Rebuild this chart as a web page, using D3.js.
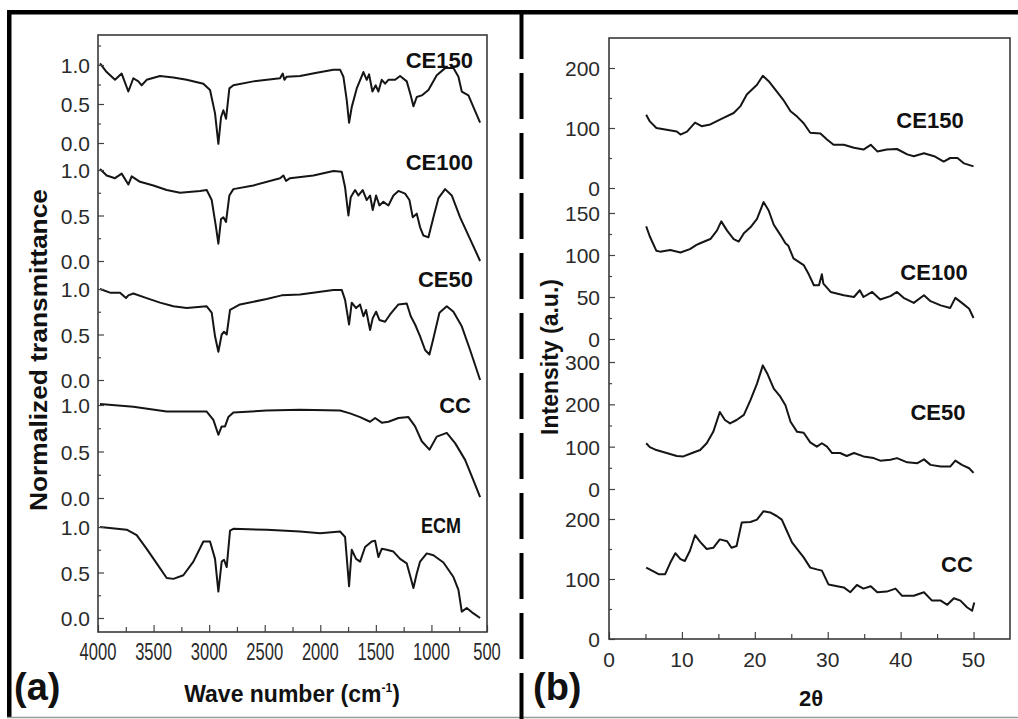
<!DOCTYPE html>
<html>
<head>
<meta charset="utf-8">
<script src="https://cdn.jsdelivr.net/npm/d3@7"></script>
<style>
  html, body { margin: 0; padding: 0; background: #fff; }
  svg { display: block; }
  text { font-family: "Liberation Sans", Arial, sans-serif; fill: #2a2a2a; }
  .lbl { font-weight: bold; fill: #111; }
</style>
</head>
<body>
<div id="chart"></div>
<script>
// FTIR spectra, [wave number, normalized transmittance]
const ftirCE150 = [[3982,1.02],[3922,0.91],[3847,0.81],[3787,0.89],[3727,0.66],[3682,0.83],[3637,0.79],[3607,0.74],[3562,0.81],[3442,0.86],[3322,0.84],[3202,0.81],[3052,0.76],[2992,0.68],[2947,0.38],[2917,-0.01],[2893,0.33],[2872,0.42],[2848,0.31],[2818,0.70],[2782,0.74],[2602,0.79],[2362,0.83],[2338,0.89],[2323,0.81],[2302,0.85],[2182,0.86],[2032,0.90],[1882,0.94],[1822,0.94],[1792,0.85],[1762,0.55],[1741,0.26],[1717,0.46],[1672,0.70],[1612,0.91],[1582,0.81],[1561,0.88],[1531,0.66],[1501,0.74],[1477,0.66],[1447,0.81],[1417,0.76],[1387,0.81],[1327,0.81],[1282,0.86],[1222,0.79],[1186,0.61],[1162,0.47],[1132,0.59],[1087,0.61],[1027,0.68],[952,0.87],[877,0.96],[802,0.96],[757,0.85],[727,0.66],[667,0.61],[622,0.46],[562,0.26]];
const ftirCE100 = [[3982,1.01],[3922,0.94],[3847,0.91],[3787,0.96],[3727,0.84],[3697,0.93],[3622,0.87],[3502,0.83],[3382,0.78],[3262,0.75],[3082,0.77],[3022,0.78],[2977,0.67],[2938,0.37],[2917,0.19],[2893,0.46],[2872,0.48],[2848,0.43],[2818,0.72],[2782,0.79],[2602,0.83],[2362,0.91],[2332,0.94],[2308,0.88],[2272,0.91],[2062,0.94],[1882,0.99],[1807,0.98],[1777,0.81],[1747,0.50],[1726,0.70],[1687,0.78],[1657,0.72],[1618,0.78],[1582,0.67],[1552,0.72],[1528,0.56],[1498,0.72],[1468,0.61],[1432,0.65],[1387,0.61],[1342,0.72],[1297,0.77],[1237,0.74],[1198,0.67],[1168,0.48],[1132,0.52],[1102,0.37],[1072,0.28],[1027,0.26],[982,0.48],[937,0.69],[877,0.79],[817,0.72],[742,0.48],[652,0.24],[562,0.0]];
const ftirCE50 = [[3982,1.0],[3892,0.96],[3802,0.96],[3748,0.90],[3727,0.93],[3682,0.95],[3562,0.90],[3442,0.85],[3322,0.81],[3202,0.79],[3022,0.81],[2977,0.74],[2947,0.48],[2917,0.31],[2887,0.50],[2866,0.53],[2842,0.50],[2812,0.77],[2722,0.83],[2482,0.89],[2347,0.93],[2182,0.94],[1882,0.99],[1807,0.99],[1777,0.88],[1741,0.61],[1717,0.85],[1678,0.79],[1642,0.83],[1612,0.70],[1588,0.77],[1552,0.55],[1528,0.68],[1498,0.75],[1468,0.66],[1417,0.64],[1372,0.72],[1297,0.83],[1222,0.84],[1186,0.70],[1147,0.61],[1102,0.48],[1057,0.33],[1018,0.28],[982,0.46],[928,0.74],[862,0.81],[802,0.75],[727,0.59],[652,0.33],[562,0.0]];
const ftirCC = [[3982,1.01],[3682,0.98],[3382,0.93],[3202,0.93],[3022,0.93],[2962,0.84],[2917,0.68],[2887,0.77],[2857,0.77],[2827,0.87],[2782,0.92],[2482,0.94],[2182,0.95],[1822,0.94],[1732,0.91],[1642,0.87],[1552,0.82],[1507,0.86],[1447,0.81],[1387,0.82],[1297,0.86],[1207,0.87],[1147,0.77],[1087,0.61],[1018,0.52],[952,0.66],[862,0.70],[787,0.59],[697,0.41],[622,0.19],[562,0.01]];
const ftirECM = [[3982,1.0],[3742,0.97],[3652,0.91],[3562,0.76],[3472,0.60],[3382,0.44],[3322,0.43],[3232,0.47],[3142,0.62],[3052,0.84],[2992,0.84],[2947,0.65],[2917,0.29],[2887,0.62],[2866,0.64],[2842,0.56],[2812,0.96],[2782,0.98],[2482,0.97],[2182,0.95],[2002,0.93],[1822,0.95],[1777,0.89],[1741,0.35],[1717,0.75],[1678,0.65],[1642,0.62],[1597,0.78],[1537,0.84],[1507,0.85],[1477,0.67],[1447,0.76],[1402,0.75],[1342,0.73],[1282,0.65],[1222,0.60],[1186,0.44],[1162,0.33],[1132,0.49],[1102,0.62],[1042,0.71],[982,0.69],[892,0.61],[802,0.45],[757,0.31],[727,0.07],[682,0.11],[622,0.05],[562,0.0]];

// XRD patterns, [2theta, intensity]
const xrdCE150 = [[5.1,122],[5.6,111],[6.5,100],[7.9,97],[9.3,94],[9.8,89],[10.7,94],[11.8,109],[12.7,103],[13.9,106],[15.7,117],[17.1,125],[18.0,136],[18.9,156],[20.3,172],[21.1,187],[21.9,178],[23.0,161],[23.9,147],[24.9,128],[25.8,119],[26.7,108],[27.6,92],[29.0,91],[29.9,81],[30.8,72],[32.2,72],[33.6,67],[34.9,64],[35.9,72],[36.8,61],[38.1,64],[39.5,65],[40.9,56],[41.8,53],[43.2,58],[44.6,53],[45.9,44],[46.8,50],[47.8,50],[48.7,41],[50.0,36]];
const xrdCE100 = [[5.1,134],[5.6,122],[6.5,105],[7.0,104],[8.4,106],[9.8,103],[11.1,107],[12.0,112],[12.5,114],[13.9,119],[14.8,129],[15.4,140],[16.2,129],[17.1,119],[17.8,116],[18.5,126],[19.4,133],[20.3,143],[21.2,163],[21.9,153],[22.6,136],[23.5,124],[24.2,114],[24.6,111],[25.3,96],[26.7,88],[27.4,77],[28.1,64],[28.8,64],[29.2,77],[29.4,66],[30.4,56],[32.2,52],[33.6,50],[34.4,58],[34.9,50],[36.1,56],[37.2,47],[38.6,51],[39.5,56],[40.4,49],[41.8,43],[43.2,52],[44.1,45],[45.5,40],[46.8,37],[47.5,49],[48.4,43],[49.4,36],[50.0,25]];
const xrdCE50 = [[5.1,108],[5.6,99],[6.5,92],[7.9,85],[9.3,78],[10.2,77],[11.4,85],[12.5,92],[13.4,108],[14.3,135],[15.2,182],[15.9,163],[16.6,155],[17.5,163],[18.5,175],[19.4,210],[20.3,249],[21.1,292],[21.7,273],[22.6,237],[23.5,218],[24.2,198],[24.9,159],[25.8,135],[26.7,133],[27.6,110],[28.5,100],[29.2,108],[29.9,100],[30.6,85],[31.7,85],[32.6,78],[33.6,85],[34.9,77],[36.3,73],[37.2,67],[38.6,69],[39.5,73],[40.9,63],[42.3,61],[43.2,70],[44.1,57],[45.5,53],[46.8,53],[47.5,67],[48.4,57],[49.4,49],[50.0,38]];
const xrdCC = [[5.1,119],[5.9,114],[6.8,108],[7.7,108],[8.4,127],[9.1,143],[9.8,133],[10.4,130],[11.1,147],[11.8,173],[12.5,162],[13.4,150],[14.3,152],[15.2,166],[16.2,163],[16.8,152],[17.5,155],[18.2,194],[19.4,195],[20.3,199],[21.2,213],[22.1,211],[23.0,205],[23.7,199],[24.4,180],[25.1,161],[26.0,147],[26.7,136],[27.6,119],[28.5,116],[29.2,114],[30.1,91],[31.3,88],[32.2,86],[33.1,78],[34.0,90],[34.9,84],[35.9,88],[36.8,78],[38.1,79],[39.3,84],[40.2,72],[41.8,72],[43.2,78],[44.3,64],[45.5,64],[46.4,57],[47.3,68],[48.2,64],[49.1,53],[49.8,47],[50.1,61]];

const ftirNames = ["CE150", "CE100", "CE50", "CC", "ECM"];
const xrdNames = ["CE150", "CE100", "CE50", "CC"];
const ftirTicks = [0, 0.5, 1.0];
const waveTicks = [4000, 3500, 3000, 2500, 2000, 1500, 1000, 500];
const thetaTicks = [0, 10, 20, 30, 40, 50];

const width = 1018, height = 719;
const svg = d3.select("#chart").append("svg")
  .attr("width", width)
  .attr("height", height);

svg.append("rect").attr("width", width).attr("height", height).attr("fill", "#fff");

// outer border pieces
svg.append("rect").attr("x", 7).attr("y", 10).attr("width", width - 7).attr("height", 4.5).attr("fill", "#000");
svg.append("rect").attr("x", 7).attr("y", 10).attr("width", 4.5).attr("height", 707).attr("fill", "#000");
svg.append("line").attr("x1", 7).attr("x2", width).attr("y1", 717.5).attr("y2", 717.5)
  .attr("stroke", "#9a9a9a").attr("stroke-width", 1.5);
svg.append("line").attr("x1", 521.5).attr("x2", 521.5).attr("y1", 13).attr("y2", height)
  .attr("stroke", "#000").attr("stroke-width", 4).attr("stroke-dasharray", "46,14");

const lineColor = "#151515";

// ---------- panel (a): FTIR ----------
const xA = d3.scaleLinear().domain([4000, 500]).range([98, 487]);
const ftirData = [ftirCE150, ftirCE100, ftirCE50, ftirCC, ftirECM];
const ftirRanges = [[143, 65], [261, 170], [380, 289], [498, 405], [618, 527]];
const ftirLabelY = [68, 170, 287, 413, 533];
const ftirLabelX = [473, 473, 473, 471, 461];

const gA = svg.append("g");

ftirData.forEach((series, i) => {
  const y = d3.scaleLinear().domain([0, 1]).range(ftirRanges[i]);
  const line = d3.line().x(d => xA(d[0])).y(d => y(d[1]));

  gA.append("path")
    .datum(series)
    .attr("fill", "none")
    .attr("stroke", lineColor)
    .attr("stroke-width", 2)
    .attr("stroke-linejoin", "round")
    .attr("d", line);

  // y ticks, pointing inward
  const minors = i === 0 ? [0.25, 0.75, 1.25] : [0.25, 0.75];
  gA.append("g")
    .attr("transform", "translate(98,0)")
    .call(d3.axisRight(y).tickValues(minors).tickSize(3).tickFormat(""))
    .call(g => g.select(".domain").remove())
    .selectAll("line").attr("stroke", "#444").attr("stroke-width", 1.2);

  const ay = gA.append("g")
    .attr("transform", "translate(98,0)")
    .call(d3.axisRight(y).tickValues(ftirTicks).tickSize(6).tickFormat(d3.format(".1f")));
  ay.select(".domain").remove();
  ay.selectAll("line").attr("stroke", "#444").attr("stroke-width", 1.2);
  ay.selectAll("text")
    .attr("x", -8)
    .attr("dy", "0.36em")
    .attr("text-anchor", "end")
    .style("font-size", "21px")
    .style("fill", "#2a2a2a");

  const lab = gA.append("text")
    .attr("class", "lbl")
    .attr("x", ftirLabelX[i])
    .attr("y", ftirLabelY[i])
    .attr("text-anchor", "end")
    .style("font-size", "22px")
    .text(ftirNames[i]);
  if (ftirNames[i] === "ECM") lab.attr("textLength", 40).attr("lengthAdjust", "spacingAndGlyphs");
});

// x axis (a)
const axA = gA.append("g").attr("transform", "translate(0,632)");
axA.call(d3.axisTop(xA).tickValues(d3.range(3750, 500, -500)).tickSize(5).tickFormat(""))
  .call(g => g.select(".domain").remove())
  .selectAll("line").attr("stroke", "#444").attr("stroke-width", 1.2);
const axA2 = gA.append("g").attr("transform", "translate(0,632)")
  .call(d3.axisTop(xA).tickValues(waveTicks).tickSize(7).tickFormat(""));
axA2.select(".domain").remove();
axA2.selectAll("line").attr("stroke", "#444").attr("stroke-width", 1.2);

gA.selectAll(".xlabA")
  .data(waveTicks)
  .join("text")
  .attr("class", "xlabA")
  .attr("transform", d => `translate(${xA(d)},660) scale(0.72,1.08)`)
  .attr("text-anchor", "middle")
  .style("font-size", "23px")
  .text(d => d);

gA.append("rect")
  .attr("x", 98).attr("y", 35).attr("width", 389).attr("height", 597)
  .attr("fill", "none").attr("stroke", "#3a3a3a").attr("stroke-width", 1.6);

gA.append("text")
  .attr("class", "lbl")
  .attr("transform", "translate(47,350) rotate(-90)")
  .attr("text-anchor", "middle")
  .attr("textLength", 322)
  .attr("lengthAdjust", "spacingAndGlyphs")
  .style("font-size", "24px")
  .text("Normalized transmittance");

const xt = gA.append("text")
  .attr("class", "lbl")
  .attr("x", 292)
  .attr("y", 702)
  .attr("text-anchor", "middle")
  .style("font-size", "23px");
xt.append("tspan").text("Wave number (cm");
xt.append("tspan").attr("dy", -10).style("font-size", "12px").text("-1");
xt.append("tspan").attr("dy", 10).text(")");

gA.append("text")
  .attr("class", "lbl")
  .attr("x", 14)
  .attr("y", 700)
  .style("font-size", "38px")
  .text("(a)");

// ---------- panel (b): XRD ----------
const xB = d3.scaleLinear().domain([0, 55]).range([609, 1010]);
const xrdData = [xrdCE150, xrdCE100, xrdCE50, xrdCC];
const xrdDomains = [[0, 200], [0, 150], [0, 300], [0, 200]];
const xrdRanges = [[188, 68], [339, 213], [489, 362], [639, 519]];
const xrdMajor = [[0, 100, 200], [0, 50, 100, 150], [0, 100, 200, 300], [0, 100, 200]];
const xrdMinor = [[50, 150], [25, 75, 125], [50, 150, 250], [50, 150]];
const xrdLabelPos = [[930, 128], [934, 280], [938, 420], [957, 572]];

const gB = svg.append("g");

xrdData.forEach((series, i) => {
  const y = d3.scaleLinear().domain(xrdDomains[i]).range(xrdRanges[i]);
  const line = d3.line().x(d => xB(d[0])).y(d => y(d[1]));

  gB.append("path")
    .datum(series)
    .attr("fill", "none")
    .attr("stroke", lineColor)
    .attr("stroke-width", 2)
    .attr("stroke-linejoin", "round")
    .attr("d", line);

  gB.append("g")
    .attr("transform", "translate(609,0)")
    .call(d3.axisRight(y).tickValues(xrdMinor[i]).tickSize(3).tickFormat(""))
    .call(g => g.select(".domain").remove())
    .selectAll("line").attr("stroke", "#444").attr("stroke-width", 1.2);

  const ay = gB.append("g")
    .attr("transform", "translate(609,0)")
    .call(d3.axisRight(y).tickValues(xrdMajor[i]).tickSize(6).tickFormat(d3.format("d")));
  ay.select(".domain").remove();
  ay.selectAll("line").attr("stroke", "#444").attr("stroke-width", 1.2);
  ay.selectAll("text")
    .attr("x", -9)
    .attr("dy", "0.36em")
    .attr("text-anchor", "end")
    .style("font-size", "21px")
    .style("fill", "#2a2a2a");

  gB.append("text")
    .attr("class", "lbl")
    .attr("x", xrdLabelPos[i][0])
    .attr("y", xrdLabelPos[i][1])
    .attr("text-anchor", "middle")
    .style("font-size", "22px")
    .text(xrdNames[i]);
});

const axB = gB.append("g").attr("transform", "translate(0,639)");
axB.call(d3.axisTop(xB).tickValues(d3.range(5, 55, 10)).tickSize(5).tickFormat(""))
  .call(g => g.select(".domain").remove())
  .selectAll("line").attr("stroke", "#444").attr("stroke-width", 1.2);
const axB2 = gB.append("g").attr("transform", "translate(0,639)")
  .call(d3.axisTop(xB).tickValues(thetaTicks).tickSize(7).tickFormat(""));
axB2.select(".domain").remove();
axB2.selectAll("line").attr("stroke", "#444").attr("stroke-width", 1.2);

gB.selectAll(".xlabB")
  .data(thetaTicks)
  .join("text")
  .attr("class", "xlabB")
  .attr("x", d => xB(d))
  .attr("y", 667)
  .attr("text-anchor", "middle")
  .style("font-size", "21px")
  .text(d => d);

gB.append("rect")
  .attr("x", 609).attr("y", 38).attr("width", 401).attr("height", 601)
  .attr("fill", "none").attr("stroke", "#3a3a3a").attr("stroke-width", 1.6);

gB.append("text")
  .attr("class", "lbl")
  .attr("transform", "translate(558,357) rotate(-90)")
  .attr("text-anchor", "middle")
  .style("font-size", "23px")
  .text("Intensity (a.u.)");

gB.append("text")
  .attr("class", "lbl")
  .attr("x", 811)
  .attr("y", 706)
  .attr("text-anchor", "middle")
  .style("font-size", "22px")
  .text("2θ");

gB.append("text")
  .attr("class", "lbl")
  .attr("x", 533)
  .attr("y", 700)
  .style("font-size", "38px")
  .text("(b)");
</script>
</body>
</html>
